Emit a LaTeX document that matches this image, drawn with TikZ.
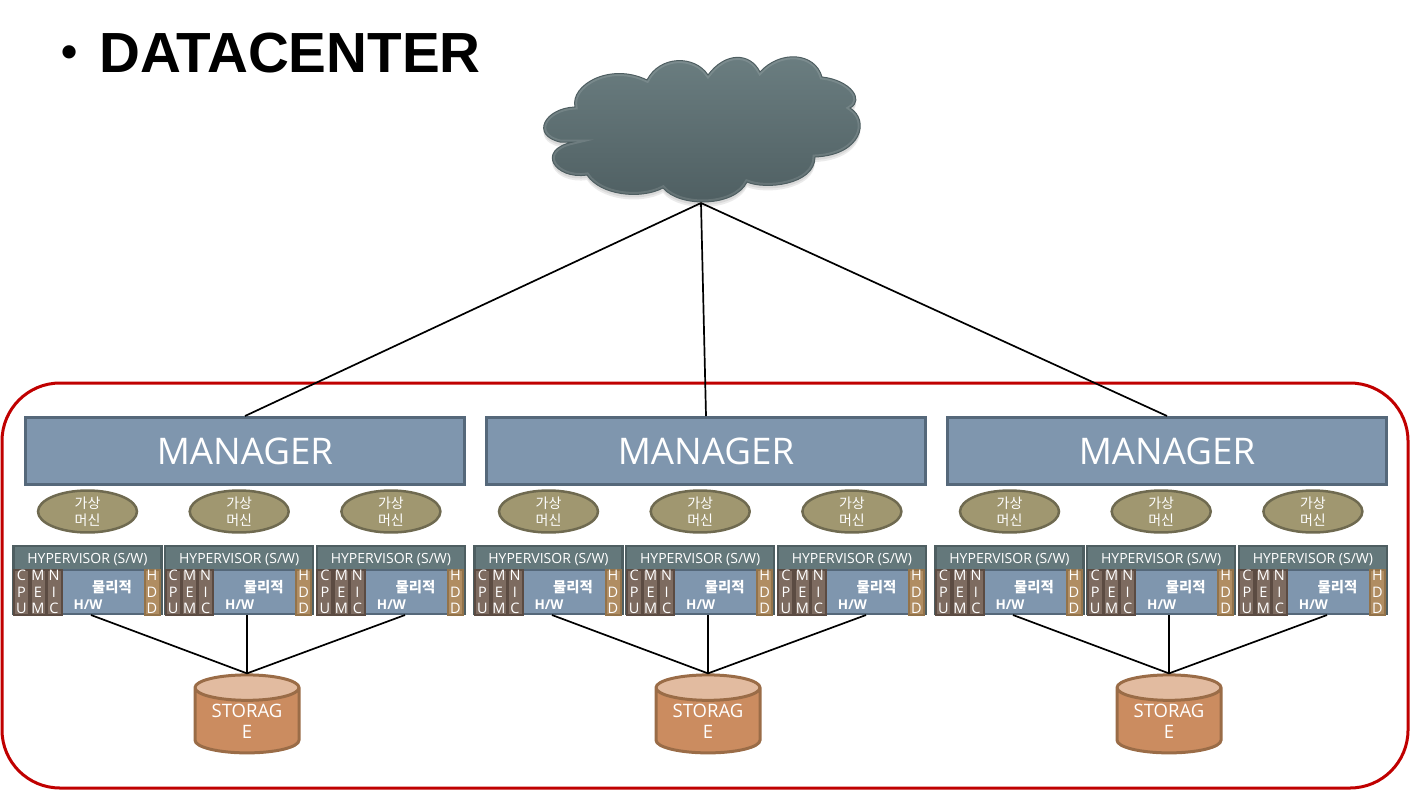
\documentclass[tikz,border=0pt]{standalone}
\usepackage{fontspec}
\setmainfont{Open Sans}
\newfontfamily\korfont{Noto Sans CJK KR}
\newfontfamily\titlefont{Liberation Sans}
\usetikzlibrary{shapes.geometric}
\definecolor{framered}{HTML}{C00000}
\definecolor{mgrfill}{HTML}{7F96AE}
\definecolor{mgrline}{HTML}{55687A}
\definecolor{hvfill}{HTML}{64787B}
\definecolor{hvline}{HTML}{4E5E61}
\definecolor{partfill}{HTML}{7D6B60}
\definecolor{partline}{HTML}{5B4B42}
\definecolor{hddfill}{HTML}{B08D62}
\definecolor{hddline}{HTML}{93734A}
\definecolor{vmfill}{HTML}{A09770}
\definecolor{vmline}{HTML}{6F6A50}
\definecolor{stfill}{HTML}{CB8C60}
\definecolor{sttop}{HTML}{E2BBA0}
\definecolor{stline}{HTML}{9A6C47}
\newcommand{\cloudpath}{(575,107) .. controls (570,85) and (610,62) .. (647,80)
  .. controls (660,55) and (695,55) .. (708,75)
  .. controls (725,52) and (750,52) .. (760,72)
  .. controls (780,50) and (815,52) .. (822,77)
  .. controls (850,80) and (865,100) .. (850,108)
  .. controls (870,120) and (862,155) .. (815,157)
  .. controls (815,185) and (765,190) .. (747,182)
  .. controls (735,207) and (680,208) .. (663,188)
  .. controls (640,200) and (600,195) .. (587,175)
  .. controls (555,180) and (535,150) .. (573,142)
  -- (560,142) .. controls (530,135) and (545,108) .. (575,107) -- cycle}
\tikzset{
  mgrbox/.style={draw=mgrline,fill=mgrfill,line width=3pt,inner sep=0pt,minimum width=439pt,minimum height=67pt,text=white,font=\fontsize{36.7}{40}\selectfont},
  vmnode/.style={ellipse,draw=vmline,fill=vmfill,line width=2.5pt,inner sep=0pt,minimum width=99pt,minimum height=33pt,text=white,align=center,font=\korfont\fontsize{14}{17}\selectfont},
  hvbox/.style={draw=hvline,fill=hvfill,line width=2.5pt,inner sep=0pt,minimum width=148pt,minimum height=68pt},
  hvtext/.style={inner sep=0pt,text=white,font=\fontsize{14}{15}\selectfont},
  hwbox/.style={draw=mgrline,fill=mgrfill,line width=2pt,inner sep=0pt,minimum width=96pt,minimum height=44pt},
  partbox/.style={draw=partline,fill=partfill,line width=2pt,inner sep=0pt,minimum width=15pt,minimum height=45pt,text=white,align=center,font=\fontsize{14.5}{16.5}\selectfont},
  hddbox/.style={partbox,draw=hddline,fill=hddfill},
  hwtext/.style={inner sep=0pt,text=white,font=\bfseries\fontsize{13.5}{15}\selectfont},
  stnode/.style={cylinder,shape border rotate=90,aspect=0.36,draw=stline,line width=3pt,cylinder uses custom fill,cylinder body fill=stfill,cylinder end fill=sttop,inner sep=0pt,minimum width=104pt,minimum height=78pt,text=white,align=center,font=\fontsize{18.5}{21}\selectfont},
  link/.style={draw=black,line width=1.7pt}
}
\begin{document}
\begin{tikzpicture}[x=1pt,y=-1pt]
\useasboundingbox (0,0) rectangle (1410,790);
% title
\node[inner sep=0pt,font=\titlefont\bfseries\fontsize{56.6}{60}\selectfont,anchor=west] (title) at (99,53) {DATACENTER};
\node[inner sep=0pt,font=\titlefont\bfseries\fontsize{46}{50}\selectfont] (bullet) at (70,57) {•};
% cloud
\fill[black,opacity=0.08,shift={(0,5)}] \cloudpath;
\fill[black,opacity=0.08,shift={(0,3)}] \cloudpath;
\shade[top color=hvfill!95!white,bottom color=hvline] \cloudpath;
\begin{scope}
  \clip \cloudpath;
  \draw[white,opacity=0.12,line width=5pt] \cloudpath;
\end{scope}
\draw[hvline,line width=1pt] \cloudpath;
\coordinate (cloud) at (701,203);
% frame
\node[draw=framered,line width=3pt,rounded corners=58pt,inner sep=0pt,minimum width=1406pt,minimum height=405pt] (frame) at (705,585.5) {};
\foreach \g in {1,2,3}{
  \pgfmathsetmacro{\off}{461*(\g-1)}
  \node[mgrbox] (mgr\g) at (245+\off,451) {MANAGER};
  \draw[link] (cloud) -- (mgr\g.north);
  \node[stnode] (st\g) at (247+\off,721) {STORAG\\E};
  \foreach \s in {1,2,3}{
    \pgfmathsetmacro{\u}{\off+151.7*(\s-1)}
    \node[vmnode] (vm\g\s) at (87.5+\u,511.5) {가상\\머신};
    \node[hvbox] (hv\g\s) at (87.5+\u,580) {};
    \node[hvtext] (hvt\g\s) at (87.5+\u,560) {HYPERVISOR (S/W)};
    \node[hwbox] (hw\g\s) at (100+\u,592) {};
    \node[partbox] (cpu\g\s) at (21.5+\u,592) {C\\P\\U};
    \node[partbox] (mem\g\s) at (38+\u,592) {M\\E\\M};
    \node[partbox] (nic\g\s) at (54+\u,592) {N\\I\\C};
    \node[hddbox] (hdd\g\s) at (152+\u,592) {H\\D\\D};
    \node[hwtext,font=\korfont\bfseries\fontsize{14.4}{15}\selectfont] (phy\g\s) at (112+\u,587) {물리적};
    \node[hwtext] (hwt\g\s) at (88+\u,605) {H/W};
  }
  \foreach \s/\lx in {1/91,2/247,3/405}{
    \coordinate (lk\g\s) at (\lx+\off,615);
    \draw[link] (lk\g\s) -- (st\g.north);
  }
}
\end{tikzpicture}
\end{document}
